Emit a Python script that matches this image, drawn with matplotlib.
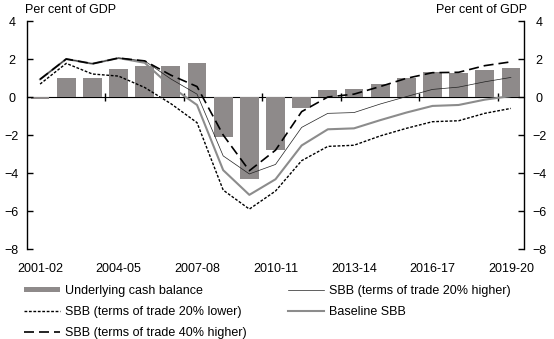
import numpy as np
import matplotlib
matplotlib.use('Agg')
import matplotlib.pyplot as plt
from matplotlib.patches import Rectangle
from matplotlib.legend_handler import HandlerPatch

plt.rcParams['font.family'] = ['Liberation Sans', 'DejaVu Sans']
plt.rcParams['font.size'] = 9

years = ['2001-02', '2002-03', '2003-04', '2004-05', '2005-06', '2006-07', '2007-08',
         '2008-09', '2009-10', '2010-11', '2011-12', '2012-13', '2013-14', '2014-15',
         '2015-16', '2016-17', '2017-18', '2018-19', '2019-20']

# underlying cash balance (bars)
ucb = [-0.1, 1.0, 1.0, 1.5, 1.65, 1.65, 1.8, -2.1, -4.3, -2.8, -0.6, 0.35, 0.4,
       0.7, 1.0, 1.3, 1.25, 1.4, 1.55]
# structural budget balance scenarios
sbb_base = [0.93, 2.0, 1.75, 2.05, 1.8, 0.55, -0.42, -3.85, -5.15, -4.33, -2.55, -1.7,
            -1.65, -1.22, -0.82, -0.47, -0.42, -0.14, 0.05]
sbb_20hi = [0.93, 2.0, 1.75, 2.05, 1.9, 0.95, 0.15, -3.1, -4.05, -3.55, -1.6, -0.86,
            -0.82, -0.37, 0.02, 0.4, 0.52, 0.8, 1.03]
sbb_20lo = [0.68, 1.77, 1.21, 1.1, 0.5, -0.35, -1.35, -4.9, -5.9, -4.95, -3.35, -2.6,
            -2.54, -2.05, -1.65, -1.3, -1.25, -0.86, -0.6]
sbb_40hi = [0.93, 2.0, 1.75, 2.05, 1.9, 1.15, 0.55, -2.0, -3.88, -2.8, -0.77, 0.0,
            0.15, 0.55, 0.98, 1.28, 1.3, 1.65, 1.85]

x = np.arange(len(years))
bar_color = '#8e8a8a'

fig = plt.figure(figsize=(5.54, 3.39), dpi=100)
ax = fig.add_axes([27/554, 1-249/339, (524-27)/554, 228/339])

ax.bar(x, ucb, width=0.72, color=bar_color, zorder=1)
l20hi, = ax.plot(x, sbb_20hi, color='#202020', lw=0.5, zorder=3,
                 label='SBB (terms of trade 20% higher)')
lbase, = ax.plot(x, sbb_base, color='#8c8c8c', lw=1.5, zorder=2,
                 label='Baseline SBB')
l20lo, = ax.plot(x, sbb_20lo, color='black', lw=1.0, ls=(0, (2, 1.2)), zorder=3,
                 label='SBB (terms of trade 20% lower)')
l40hi, = ax.plot(x, sbb_40hi, color='black', lw=1.2, ls=(0, (6, 3)), zorder=3,
                 label='SBB (terms of trade 40% higher)')

ax.set_xlim(-0.5, len(years) - 0.5)
ax.set_ylim(-8, 4)
ax.set_yticks(np.arange(-8, 5, 2))

for s in ['top', 'bottom']:
    ax.spines[s].set_visible(False)
ax.spines['left'].set_linewidth(1.0)
ax.spines['right'].set_linewidth(1.0)

ax.tick_params(axis='y', direction='in', length=4, width=1, pad=11,
               left=True, right=True, labelleft=True, labelright=True)
for lab in ax.get_yticklabels():
    lab.set_horizontalalignment('center')

ax.set_xticks(x[::3])
ax.set_xticklabels(years[::3])
ax.tick_params(axis='x', length=0, pad=10)

# zero line with category ticks
zax = ax.secondary_xaxis(8/12)
zax.spines['bottom'].set_linewidth(1.0)
zax.set_xticks(np.arange(2.5, len(years) - 1, 3))
zax.set_xticklabels([])
zax.tick_params(axis='x', direction='inout', length=6, width=1,
                labelbottom=False, labeltop=False)

fig.text(25/554, 1-10/339, 'Per cent of GDP', ha='left', va='center')
fig.text(527/554, 1-10/339, 'Per cent of GDP', ha='right', va='center')


def flat_bar(legend, orig_handle, xdescent, ydescent, width, height, fontsize):
    h = height * 0.55
    return Rectangle((-xdescent, -ydescent + (height - h) / 2), width, h)


bar_proxy = Rectangle((0, 0), 1, 1, facecolor=bar_color, edgecolor='none',
                      label='Underlying cash balance')
handles = [bar_proxy, l20lo, l40hi, l20hi, lbase]
fig.legend(handles, [h.get_label() for h in handles], ncol=2, frameon=False,
           loc='upper left', bbox_to_anchor=(24/554, 1-285/339), borderaxespad=0,
           handlelength=2.9, handletextpad=0.4, labelspacing=0.72, columnspacing=3.25,
           borderpad=0, handler_map={Rectangle: HandlerPatch(patch_func=flat_bar)})

fig.savefig('out.png', dpi=100)
